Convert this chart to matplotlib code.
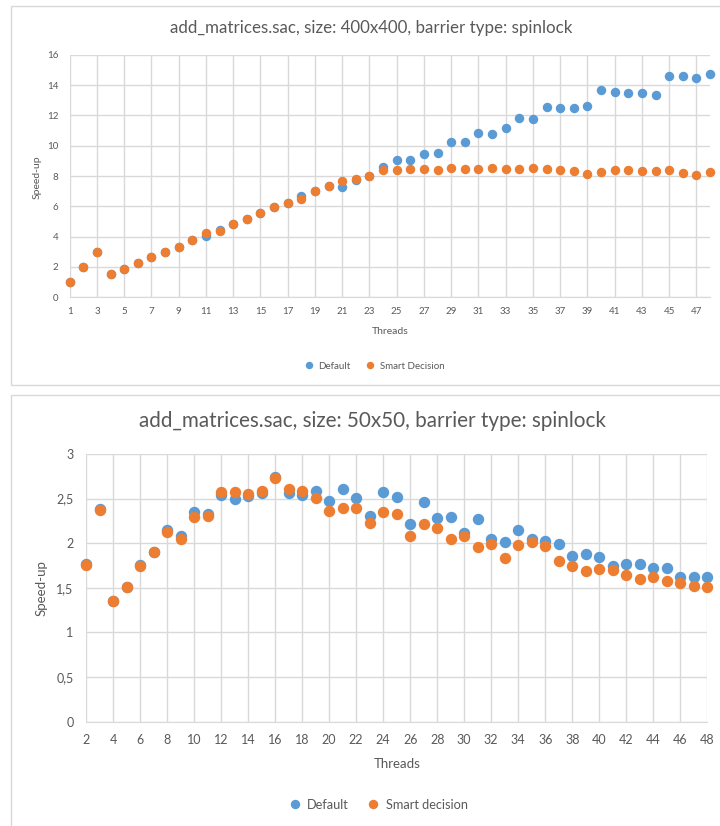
import matplotlib
matplotlib.use("Agg")
import matplotlib.pyplot as plt
from matplotlib.patches import Rectangle
from matplotlib.ticker import FuncFormatter
import numpy as np

# --- data: 400x400 run ---
threads_big = list(range(1, 49))
default_big = [1.0, 2.0, 3.0, 1.52, 1.89, 2.26, 2.64, 3.01, 3.34, 3.78,
               4.07, 4.46, 4.84, 5.16, 5.54, 5.93, 6.22, 6.66, 7.03, 7.36,
               7.27, 7.74, 8.0, 8.59, 9.05, 9.03, 9.45, 9.54, 10.22, 10.26,
               10.84, 10.75, 11.16, 11.82, 11.74, 12.57, 12.46, 12.46, 12.64, 13.67,
               13.56, 13.45, 13.47, 13.36, 14.57, 14.62, 14.46, 14.73]
smart_big = [1.0, 2.0, 3.0, 1.52, 1.89, 2.26, 2.64, 3.01, 3.34, 3.78,
             4.22, 4.40, 4.84, 5.16, 5.54, 5.93, 6.22, 6.51, 7.03, 7.36,
             7.69, 7.78, 8.0, 8.37, 8.37, 8.48, 8.46, 8.37, 8.51, 8.44,
             8.46, 8.55, 8.48, 8.48, 8.53, 8.44, 8.40, 8.31, 8.15, 8.29,
             8.37, 8.37, 8.35, 8.35, 8.37, 8.18, 8.09, 8.29]

# --- data: 50x50 run ---
threads_small = list(range(2, 49))
default_small = [1.77, 2.38, 1.35, 1.51, 1.76, 1.905, 2.15, 2.08, 2.35, 2.33,
                 2.54, 2.50, 2.53, 2.56, 2.74, 2.56, 2.54, 2.59, 2.47, 2.61,
                 2.51, 2.31, 2.57, 2.52, 2.22, 2.46, 2.28, 2.29, 2.12, 2.27,
                 2.05, 2.01, 2.15, 2.05, 2.02, 1.99, 1.86, 1.88, 1.85, 1.75,
                 1.77, 1.77, 1.72, 1.72, 1.62, 1.62, 1.62]
smart_small = [1.76, 2.37, 1.35, 1.51, 1.75, 1.905, 2.13, 2.05, 2.29, 2.31,
               2.57, 2.57, 2.55, 2.58, 2.73, 2.61, 2.59, 2.51, 2.36, 2.39,
               2.39, 2.23, 2.35, 2.33, 2.08, 2.21, 2.17, 2.05, 2.08, 1.96,
               1.99, 1.84, 1.98, 2.01, 1.97, 1.80, 1.74, 1.69, 1.71, 1.70,
               1.64, 1.60, 1.62, 1.58, 1.55, 1.52, 1.51]

BLUE = "#5B9BD5"
ORANGE = "#ED7D31"
GRID = "#D9D9D9"
TXT = "#595959"

plt.rcParams["font.family"] = ["Lato", "DejaVu Sans"]

fig = plt.figure(figsize=(7.2, 8.26), dpi=100)
W, H = 720, 826

def fx(px):
    return px / W

def fy(py):
    return 1 - py / H

# chart frames
fig.add_artist(Rectangle((fx(11), fy(385)), fx(720), fy(6) - fy(385),
                         transform=fig.transFigure, fill=False, ec=GRID, lw=1))
fig.add_artist(Rectangle((fx(11), fy(840)), fx(720), fy(394.5) - fy(840),
                         transform=fig.transFigure, fill=False, ec=GRID, lw=1))


def style(ax, xticks, yticks, fs, xpad, ypad):
    ax.set_xticks(xticks)
    ax.set_yticks(yticks)
    ax.grid(True, color=GRID, lw=1)
    ax.set_axisbelow(True)
    for s in ["top", "right", "left"]:
        ax.spines[s].set_visible(False)
    ax.spines["bottom"].set_color(GRID)
    ax.tick_params(length=0, labelsize=fs, colors=TXT)
    ax.tick_params(axis="x", pad=xpad)
    ax.tick_params(axis="y", pad=ypad)


# ---- top chart ----
ax1 = fig.add_axes([fx(69.7), fy(297.3), fx(710) - fx(69.7), fy(54.7) - fy(297.3)])
ax1.plot(threads_big, default_big, "o", color=BLUE, ms=5.8, label="Default", clip_on=False)
ax1.plot(threads_big, smart_big, "o", color=ORANGE, ms=5.8, label="Smart Decision", clip_on=False)
ax1.set_xlim(1, 48)
ax1.set_ylim(0, 16)
style(ax1, range(1, 48, 2), range(0, 17, 2), 7, 7, 8)
ax1.legend(loc="center", bbox_to_anchor=(0.472, -0.284), ncol=2, frameon=False,
           fontsize=7, handletextpad=0.0, columnspacing=1.0, markerscale=0.75,
           labelcolor=TXT)
fig.text(fx(371), fy(28), "add_matrices.sac, size: 400x400, barrier type: spinlock",
         ha="center", va="center", fontsize=12.2, color=TXT)
fig.text(fx(390), fy(332), "Threads", ha="center", va="center", fontsize=7.5, color=TXT)
fig.text(fx(37), fy(177), "Speed-up", ha="center", va="center", rotation=90,
         fontsize=7.5, color=TXT)

# ---- bottom chart ----
ax2 = fig.add_axes([fx(86), fy(721.7), fx(707.3) - fx(86), fy(454) - fy(721.7)])
ax2.plot(threads_small, default_small, "o", color=BLUE, ms=7.2, label="Default", clip_on=False)
ax2.plot(threads_small, smart_small, "o", color=ORANGE, ms=7.2, label="Smart decision", clip_on=False)
ax2.set_xlim(2, 48)
ax2.set_ylim(0, 3)
style(ax2, range(2, 49, 2), np.arange(0, 3.01, 0.5), 9, 9, 9)
ax2.yaxis.set_major_formatter(FuncFormatter(lambda v, p: f"{v:g}".replace(".", ",")))
ax2.legend(loc="center", bbox_to_anchor=(0.465, -0.31), ncol=2, frameon=False,
           fontsize=9.2, handletextpad=0.0, columnspacing=0.9, markerscale=0.8,
           labelcolor=TXT)
fig.text(fx(372), fy(421), "add_matrices.sac, size: 50x50, barrier type: spinlock",
         ha="center", va="center", fontsize=14.9, color=TXT)
fig.text(fx(397), fy(764), "Threads", ha="center", va="center", fontsize=9.5, color=TXT)
fig.text(fx(42), fy(588), "Speed-up", ha="center", va="center", rotation=90,
         fontsize=9.5, color=TXT)

fig.savefig("out.png", dpi=100)
